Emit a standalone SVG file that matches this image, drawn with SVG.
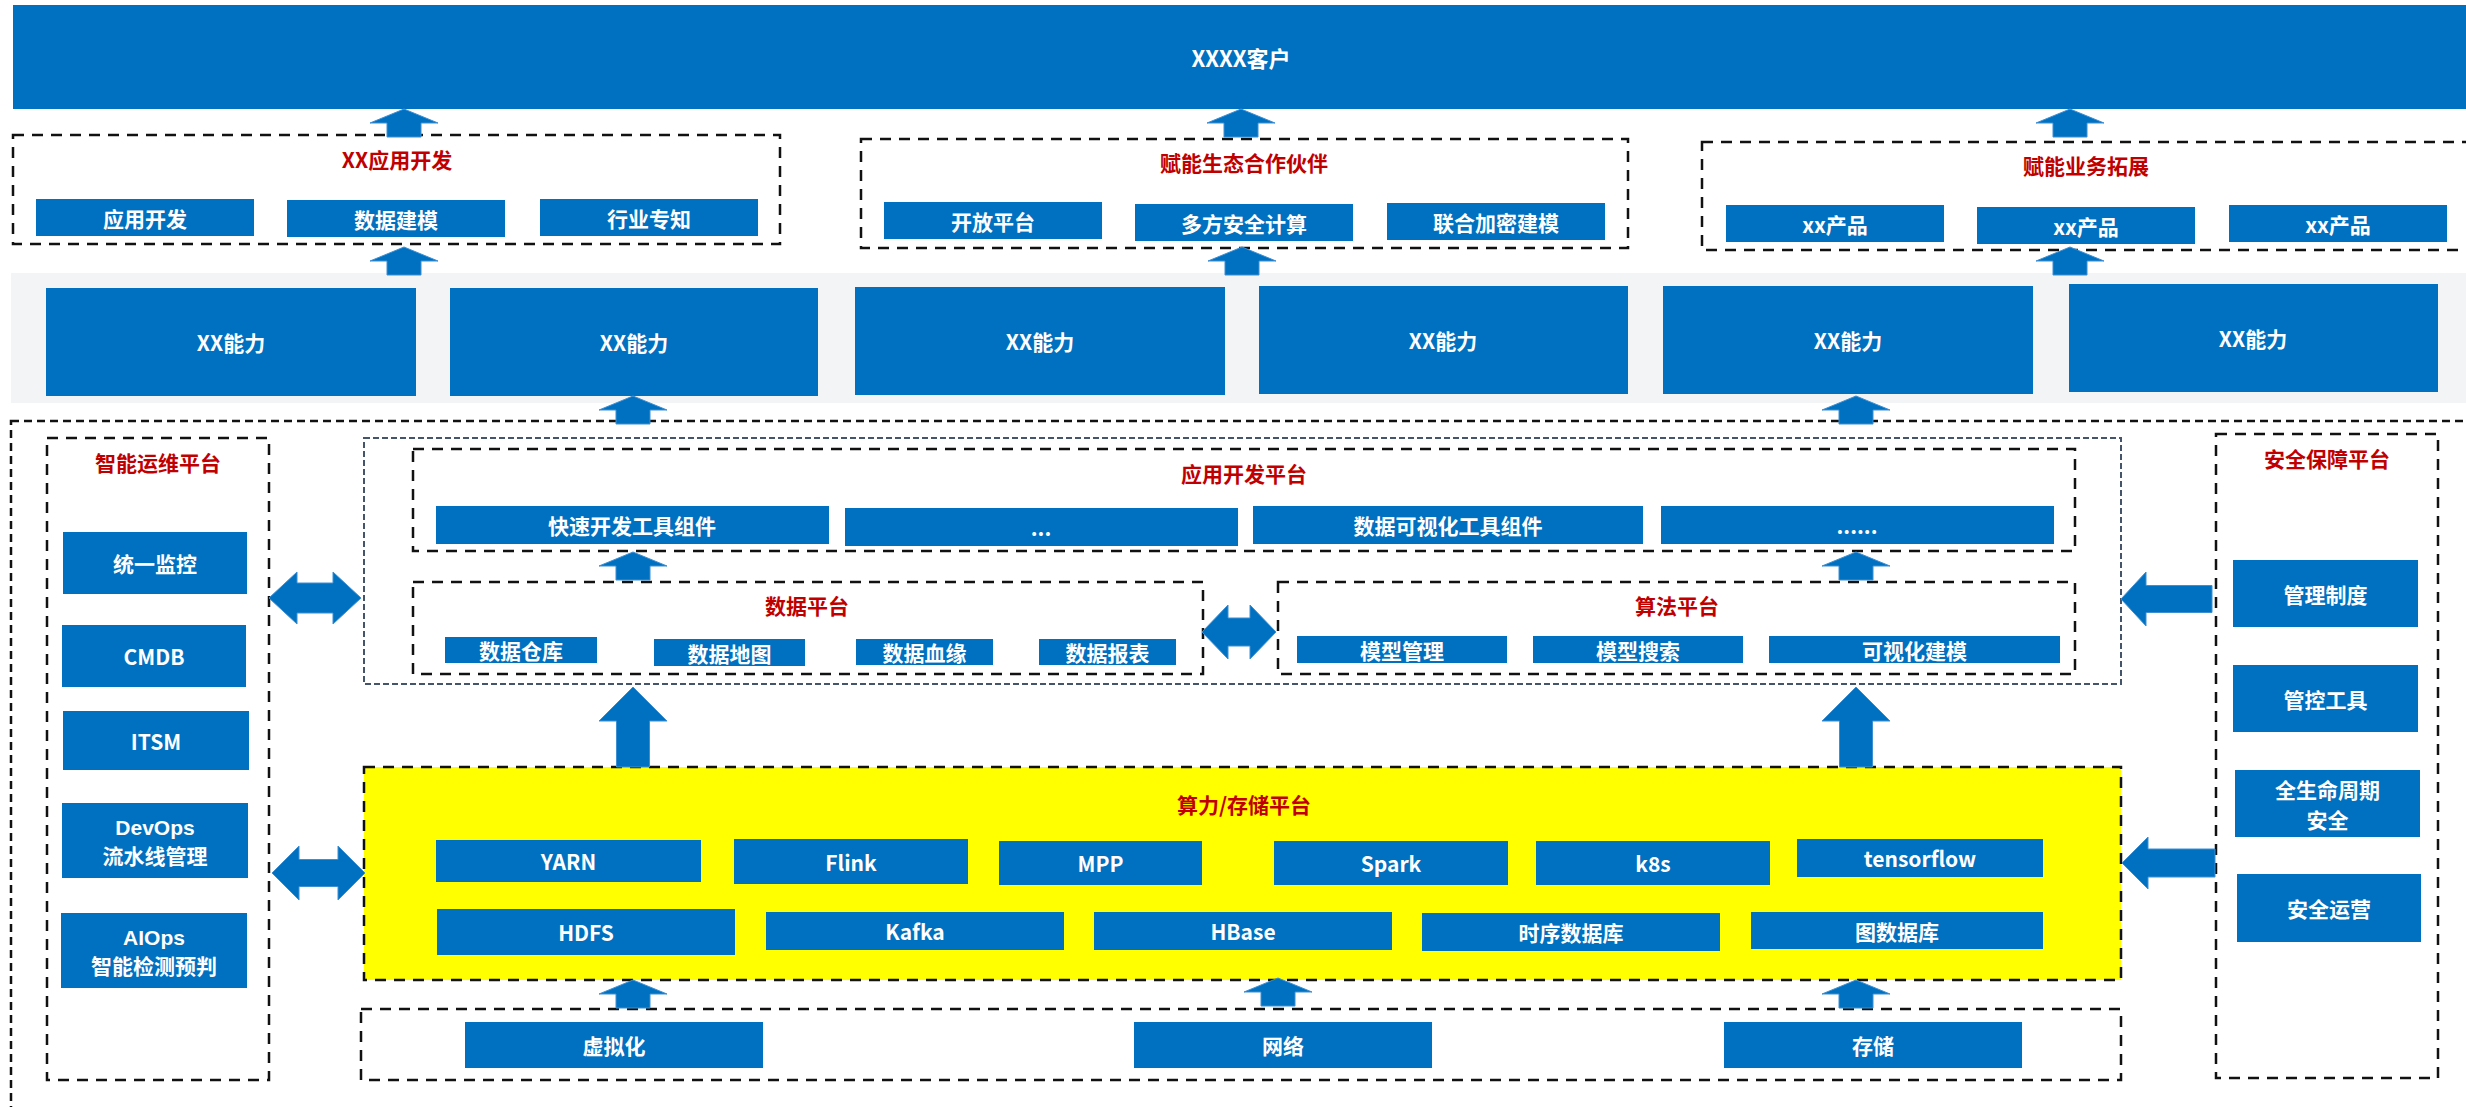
<svg xmlns="http://www.w3.org/2000/svg" xmlns:xlink="http://www.w3.org/1999/xlink" width="2466" height="1107" viewBox="0 0 2466 1107">
<style>
.b{fill:#0070C0}
.t{font-family:"Noto Sans CJK SC","Liberation Sans",sans-serif;font-weight:bold;font-size:21px;fill:#fff;text-anchor:middle;dominant-baseline:central}
.l{font-family:"Liberation Sans",sans-serif}
.r{fill:#C00000}
.d{fill:none;stroke:#111;stroke-width:2.5;stroke-dasharray:11 8}
.do{fill:none;stroke:#111;stroke-width:2.5;stroke-dasharray:8 5}
.dg{fill:none;stroke:#44546A;stroke-width:2;stroke-dasharray:6 3}
.a{fill:#0070C0;stroke:#3d8fd4;stroke-width:1}
</style>
<defs>
<path id="upS" d="M0,0 L34,14 L17,14 L17,28 L-17,28 L-17,14 L-34,14 Z"/>
<path id="upL" d="M0,0 L34,34 L16.5,34 L16.5,80 L-16.5,80 L-16.5,34 L-34,34 Z"/>
</defs>
<rect width="2466" height="1107" fill="#fff"/>

<g id="customer">
<rect class="b" x="13" y="5" width="2460" height="104"/>
<text class="t" x="1241" y="57" style="font-size:22px">XXXX客户</text>
</g>

<g id="app-dev-group">
<rect class="d" x="13" y="135" width="767" height="109"/>
<text class="t r" x="397" y="159">XX应用开发</text>
<rect class="b" x="36" y="199" width="218" height="37"/><text class="t" x="145" y="217.5">应用开发</text>
<rect class="b" x="287" y="200" width="218" height="37"/><text class="t" x="396" y="218.5">数据建模</text>
<rect class="b" x="540" y="199" width="218" height="37"/><text class="t" x="649" y="217.5">行业专知</text>
</g>

<g id="partner-group">
<rect class="d" x="861" y="139" width="767" height="109"/>
<text class="t r" x="1244" y="162">赋能生态合作伙伴</text>
<rect class="b" x="884" y="202" width="218" height="37"/><text class="t" x="993" y="220.5">开放平台</text>
<rect class="b" x="1135" y="204" width="218" height="37"/><text class="t" x="1244" y="222.5">多方安全计算</text>
<rect class="b" x="1387" y="203" width="218" height="37"/><text class="t" x="1496" y="221.5">联合加密建模</text>
</g>

<g id="business-group">
<rect class="d" x="1702" y="142" width="780" height="108"/>
<text class="t r" x="2086" y="165">赋能业务拓展</text>
<rect class="b" x="1726" y="205" width="218" height="37"/><text class="t" x="1835" y="223.5">xx产品</text>
<rect class="b" x="1977" y="207" width="218" height="37"/><text class="t" x="2086" y="225.5">xx产品</text>
<rect class="b" x="2229" y="205" width="218" height="37"/><text class="t" x="2338" y="223.5">xx产品</text>
</g>

<g id="ability-row">
<rect x="11" y="273" width="2460" height="130" fill="#F3F4F6"/>
<rect class="b" x="46" y="288" width="370" height="108"/><text class="t" x="231" y="342">XX能力</text>
<rect class="b" x="450" y="288" width="368" height="108"/><text class="t" x="634" y="342">XX能力</text>
<rect class="b" x="855" y="287" width="370" height="108"/><text class="t" x="1040" y="341">XX能力</text>
<rect class="b" x="1259" y="286" width="369" height="108"/><text class="t" x="1443" y="340">XX能力</text>
<rect class="b" x="1663" y="286" width="370" height="108"/><text class="t" x="1848" y="340">XX能力</text>
<rect class="b" x="2069" y="284" width="369" height="108"/><text class="t" x="2253" y="338">XX能力</text>
</g>

<g id="platform-frame">
<rect class="do" x="11" y="421" width="2480" height="720"/>
</g>

<g id="ops-platform">
<rect class="d" x="47" y="438" width="222" height="642"/>
<text class="t r" x="158" y="462">智能运维平台</text>
<rect class="b" x="63" y="532" width="184" height="62"/><text class="t" x="155" y="563">统一监控</text>
<rect class="b" x="62" y="625" width="184" height="62"/><text class="t" x="154" y="656">CMDB</text>
<rect class="b" x="63" y="711" width="186" height="59"/><text class="t" x="156" y="740.5">ITSM</text>
<rect class="b" x="62" y="803" width="186" height="75"/><text class="t l" x="155" y="827">DevOps</text><text class="t" x="155" y="855">流水线管理</text>
<rect class="b" x="61" y="913" width="186" height="75"/><text class="t l" x="154" y="937">AIOps</text><text class="t" x="154" y="965">智能检测预判</text>
</g>

<g id="app-dev-platform-frame">
<rect class="dg" x="364" y="438" width="1757" height="246"/>
</g>

<g id="app-dev-platform">
<rect class="d" x="413" y="449" width="1662" height="102"/>
<text class="t r" x="1244" y="473">应用开发平台</text>
<rect class="b" x="436" y="506" width="393" height="38"/><text class="t" x="632" y="525">快速开发工具组件</text>
<rect class="b" x="845" y="508" width="393" height="38"/><text class="t" x="1041" y="527">...</text>
<rect class="b" x="1253" y="506" width="390" height="38"/><text class="t" x="1448" y="525">数据可视化工具组件</text>
<rect class="b" x="1661" y="506" width="393" height="38"/><text class="t" x="1857" y="525">......</text>
</g>

<g id="data-platform">
<rect class="d" x="413" y="582" width="790" height="92"/>
<text class="t r" x="807" y="605">数据平台</text>
<rect class="b" x="445" y="637" width="152" height="26"/><text class="t" x="521" y="650">数据仓库</text>
<rect class="b" x="654" y="639" width="151" height="27"/><text class="t" x="729.5" y="652.5">数据地图</text>
<rect class="b" x="856" y="639" width="137" height="26"/><text class="t" x="924.5" y="652">数据血缘</text>
<rect class="b" x="1039" y="639" width="137" height="26"/><text class="t" x="1107.5" y="652">数据报表</text>
</g>

<g id="algo-platform">
<rect class="d" x="1278" y="582" width="797" height="92"/>
<text class="t r" x="1677" y="605">算法平台</text>
<rect class="b" x="1297" y="636" width="210" height="27"/><text class="t" x="1402" y="649.5">模型管理</text>
<rect class="b" x="1533" y="636" width="210" height="27"/><text class="t" x="1638" y="649.5">模型搜索</text>
<rect class="b" x="1769" y="636" width="291" height="27"/><text class="t" x="1914.5" y="649.5">可视化建模</text>
</g>

<g id="compute-storage-platform">
<rect x="364" y="767" width="1757" height="213" fill="#FFFF00"/>
<rect class="d" x="364" y="767" width="1757" height="213"/>
<text class="t r" x="1244" y="804">算力/存储平台</text>
<rect class="b" x="436" y="840" width="265" height="42"/><text class="t" x="568.5" y="861">YARN</text>
<rect class="b" x="734" y="839" width="234" height="45"/><text class="t" x="851" y="861.5">Flink</text>
<rect class="b" x="999" y="841" width="203" height="44"/><text class="t" x="1100.5" y="863">MPP</text>
<rect class="b" x="1274" y="841" width="234" height="44"/><text class="t" x="1391" y="863">Spark</text>
<rect class="b" x="1536" y="841" width="234" height="44"/><text class="t" x="1653" y="863">k8s</text>
<rect class="b" x="1797" y="839" width="246" height="38"/><text class="t" x="1920" y="858">tensorflow</text>
<rect class="b" x="437" y="909" width="298" height="46"/><text class="t" x="586" y="932">HDFS</text>
<rect class="b" x="766" y="912" width="298" height="38"/><text class="t" x="915" y="931">Kafka</text>
<rect class="b" x="1094" y="912" width="298" height="38"/><text class="t" x="1243" y="931">HBase</text>
<rect class="b" x="1422" y="913" width="298" height="38"/><text class="t" x="1571" y="932">时序数据库</text>
<rect class="b" x="1751" y="912" width="292" height="37"/><text class="t" x="1897" y="930.5">图数据库</text>
</g>

<g id="infrastructure">
<rect class="d" x="361" y="1009" width="1760" height="71"/>
<rect class="b" x="465" y="1022" width="298" height="46"/><text class="t" x="614" y="1045">虚拟化</text>
<rect class="b" x="1134" y="1022" width="298" height="46"/><text class="t" x="1283" y="1045">网络</text>
<rect class="b" x="1724" y="1022" width="298" height="46"/><text class="t" x="1873" y="1045">存储</text>
</g>

<g id="security-platform">
<rect class="d" x="2216" y="434" width="222" height="644"/>
<text class="t r" x="2327" y="458">安全保障平台</text>
<rect class="b" x="2233" y="560" width="185" height="67"/><text class="t" x="2325.5" y="593.5">管理制度</text>
<rect class="b" x="2233" y="665" width="185" height="67"/><text class="t" x="2325.5" y="698.5">管控工具</text>
<rect class="b" x="2235" y="770" width="185" height="67"/><text class="t" x="2327.5" y="789">全生命周期</text><text class="t" x="2327.5" y="819">安全</text>
<rect class="b" x="2237" y="874" width="184" height="68"/><text class="t" x="2329" y="908">安全运营</text>
</g>

<g id="connectors">
<use href="#upS" class="a" x="404" y="109"/>
<use href="#upS" class="a" x="1241" y="109"/>
<use href="#upS" class="a" x="2070" y="109"/>
<use href="#upS" class="a" x="404" y="247"/>
<use href="#upS" class="a" x="1242" y="247"/>
<use href="#upS" class="a" x="2070" y="247"/>
<use href="#upS" class="a" x="633" y="396"/>
<use href="#upS" class="a" x="1856" y="396"/>
<use href="#upS" class="a" x="633" y="552"/>
<use href="#upS" class="a" x="1856" y="552"/>
<use href="#upL" class="a" x="633" y="687"/>
<use href="#upL" class="a" x="1856" y="687"/>
<use href="#upS" class="a" x="633" y="980"/>
<use href="#upS" class="a" x="1278" y="978"/>
<use href="#upS" class="a" x="1856" y="980"/>
<path class="a" d="M269,598 L297,572 L297,583 L333,583 L333,572 L361,598 L333,624 L333,613 L297,613 L297,624 Z"/>
<path class="a" d="M272,873 L299,846 L299,859.5 L338,859.5 L338,846 L365,873 L338,900 L338,886.5 L299,886.5 L299,900 Z"/>
<path class="a" d="M1202,632 L1228,605 L1228,618 L1250,618 L1250,605 L1276,632 L1250,659 L1250,646 L1228,646 L1228,659 Z"/>
<path class="a" d="M2121,599 L2146,572 L2146,585.5 L2212,585.5 L2212,612.5 L2146,612.5 L2146,626 Z"/>
<path class="a" d="M2122,863 L2148,837 L2148,849 L2215,849 L2215,877 L2148,877 L2148,889 Z"/>
</g>
</svg>
